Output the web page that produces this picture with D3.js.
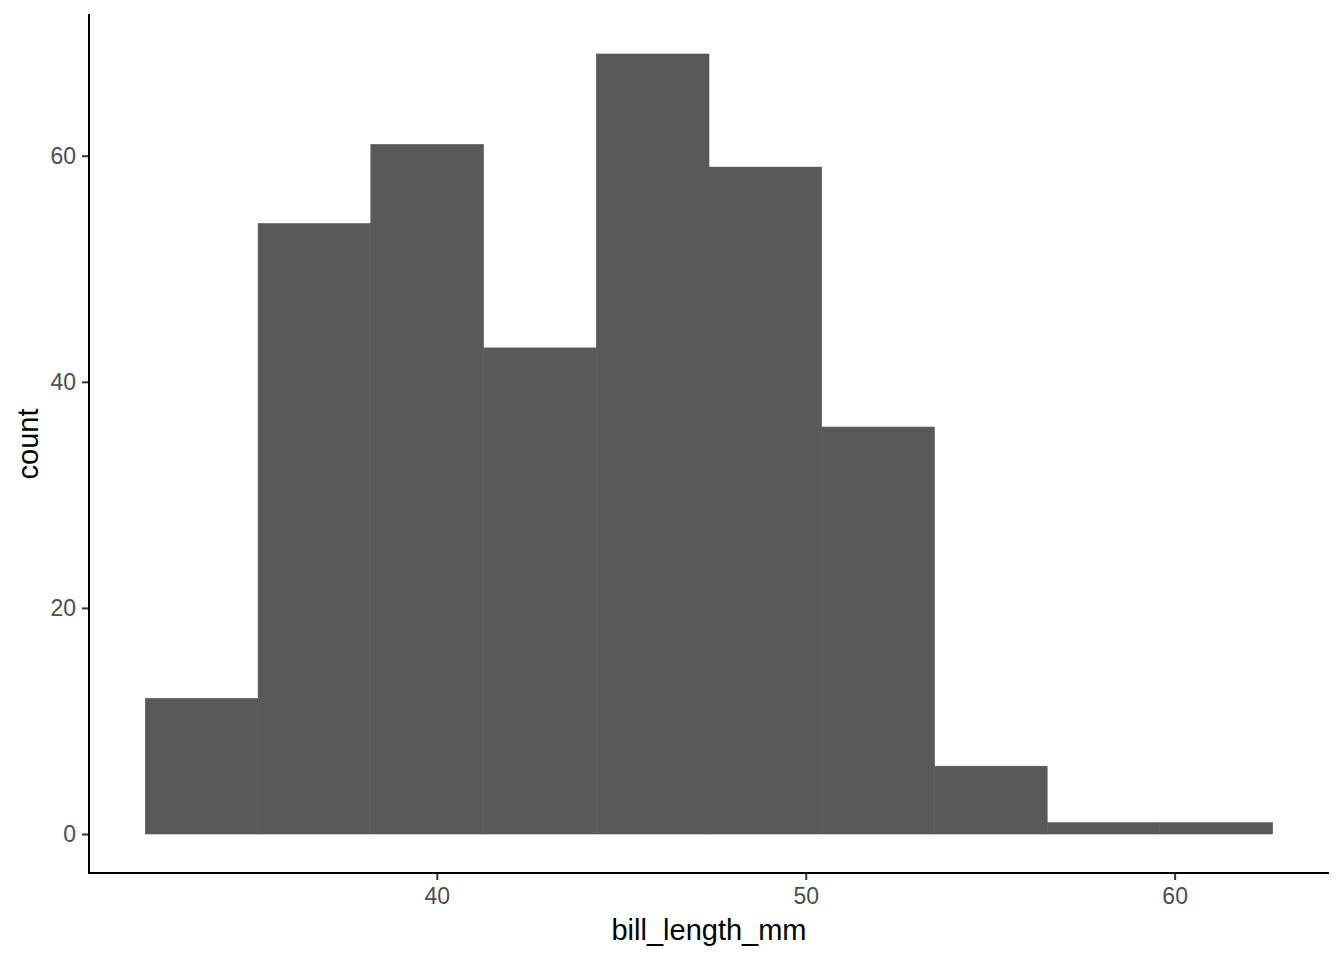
<!DOCTYPE html>
<html>
<head>
<meta charset="utf-8">
<script src="https://cdn.jsdelivr.net/npm/d3@7"></script>
<style>
  html, body { margin: 0; padding: 0; background: #fff; }
  text { font-family: "Liberation Sans", Arial, sans-serif; }
</style>
</head>
<body>
<div class="chart"></div>
<script>
// histogram of bill_length_mm, 10 bins starting at the minimum
const binStart = 32.1;
const binWidth = 3.0556;
const counts = [12, 54, 61, 43, 69, 59, 36, 6, 1, 1];
const xTicks = [40, 50, 60];
const yTicks = [0, 20, 40, 60];

const width = 1344, height = 960;
const panel = { left: 89, right: 1329, top: 15, bottom: 873 };

const bins = counts.map((c, i) => ({
  x0: binStart + i * binWidth,
  x1: binStart + (i + 1) * binWidth,
  count: c
}));

// ggplot style 5% expansion
const xMin = binStart, xMax = binStart + counts.length * binWidth;
const xPad = (xMax - xMin) * 0.05;
const yMax = d3.max(counts), yPad = yMax * 0.05;

const x = d3.scaleLinear()
  .domain([xMin - xPad, xMax + xPad])
  .range([panel.left, panel.right]);

const y = d3.scaleLinear()
  .domain([-yPad, yMax + yPad])
  .range([panel.bottom, panel.top]);

const svg = d3.select('.chart')
  .append('svg')
    .attr('width', width)
    .attr('height', height);

svg.selectAll('rect.bar')
  .data(bins)
  .enter()
  .append('rect')
    .attr('class', 'bar')
    .attr('x', d => x(d.x0))
    .attr('width', d => x(d.x1) - x(d.x0))
    .attr('y', d => y(d.count))
    .attr('height', d => y(0) - y(d.count))
    .attr('fill', '#595959')
    .attr('stroke', '#595959')
    .attr('stroke-width', 0.6);

const xAxis = d3.axisBottom(x)
  .tickValues(xTicks)
  .tickSize(7)
  .tickPadding(8);

const yAxis = d3.axisLeft(y)
  .tickValues(yTicks)
  .tickSize(7)
  .tickPadding(6);

const gx = svg.append('g')
  .attr('transform', 'translate(0,' + panel.bottom + ')')
  .call(xAxis);

const gy = svg.append('g')
  .attr('transform', 'translate(' + panel.left + ',0)')
  .call(yAxis);

[gx, gy].forEach(g => {
  g.select('.domain').remove();
  g.selectAll('.tick line').attr('stroke', '#333').attr('stroke-width', 2);
  g.selectAll('.tick text')
    .attr('fill', '#4d4d4d')
    .attr('font-size', 23)
    .attr('font-family', '"Liberation Sans", Arial, sans-serif');
});

// axis lines
svg.append('line')
  .attr('x1', panel.left).attr('x2', panel.right)
  .attr('y1', panel.bottom).attr('y2', panel.bottom)
  .attr('stroke', '#000').attr('stroke-width', 2);

svg.append('line')
  .attr('x1', panel.left).attr('x2', panel.left)
  .attr('y1', panel.top - 1).attr('y2', panel.bottom + 1)
  .attr('stroke', '#000').attr('stroke-width', 2);

// axis titles
svg.append('text')
  .attr('x', (panel.left + panel.right) / 2)
  .attr('y', 940)
  .attr('text-anchor', 'middle')
  .attr('font-size', 29)
  .attr('fill', '#000')
  .text('bill_length_mm');

svg.append('text')
  .attr('transform', 'translate(38,' + (panel.top + panel.bottom) / 2 + ') rotate(-90)')
  .attr('text-anchor', 'middle')
  .attr('font-size', 29)
  .attr('fill', '#000')
  .text('count');
</script>
</body>
</html>
